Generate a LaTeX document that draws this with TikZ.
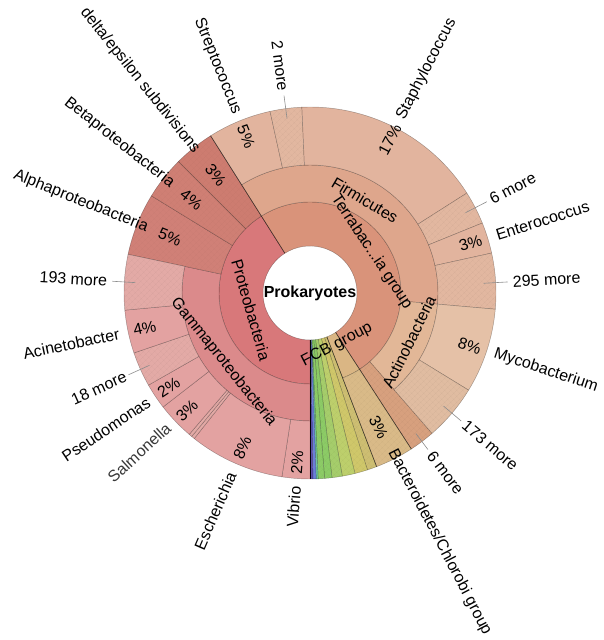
\documentclass[tikz,border=0pt]{standalone}
\usepackage{fontspec}
\setmainfont{Liberation Sans}
\usetikzlibrary{patterns.meta}
\definecolor{proteo}{HTML}{D8787A}
\definecolor{gamma}{HTML}{DB8A8B}
\definecolor{gleaf}{HTML}{E3A2A1}
\definecolor{gmore}{HTML}{E3AAA6}
\definecolor{alpha}{HTML}{D08077}
\definecolor{beta}{HTML}{CF7F74}
\definecolor{delta}{HTML}{CD7C70}
\definecolor{terra}{HTML}{D9937A}
\definecolor{firm}{HTML}{DEA68C}
\definecolor{fleaf}{HTML}{E2B49E}
\definecolor{fmore}{HTML}{E2B7A0}
\definecolor{actino}{HTML}{E2B797}
\definecolor{myco}{HTML}{E5C1A7}
\definecolor{amore}{HTML}{E0BCA1}
\definecolor{tmore}{HTML}{D7A07E}
\definecolor{fcb}{HTML}{DAB684}
\definecolor{bact}{HTML}{D9BA88}
\definecolor{sa}{HTML}{CDBE72}
\definecolor{sb}{HTML}{CFC76A}
\definecolor{sc}{HTML}{BDCF6C}
\definecolor{sd}{HTML}{A5CD6B}
\definecolor{se}{HTML}{8CCB66}
\definecolor{sf}{HTML}{6EC7A0}
\definecolor{sg}{HTML}{6A7FD8}
\definecolor{sh}{HTML}{5B4FAA}
\newcommand{\kslice}[6][]{\filldraw[slice,fill=#6,#1] (#2:#4pt) arc[start angle=#2,end angle=#3,radius=#4pt] -- (#3:#5pt) arc[start angle=#3,end angle=#2,radius=#5pt] -- cycle;}
\tikzset{
  slice/.style={draw=black,draw opacity=0.32,line width=0.45pt},
  hatch/.style={postaction={pattern={Hatch[angle=45,distance=4pt,line width=0.25pt]},pattern color=#1}},
  topline/.style={draw=black,draw opacity=0.55,line width=0.6pt},
  lbl/.style={font=\fontsize{16}{18}\selectfont,inner sep=0pt},
  rname/.style={lbl,anchor=west},
  lname/.style={lbl,anchor=east},
  leader/.style={draw=black!45,line width=0.6pt}
}
\begin{document}
\begin{tikzpicture}
\useasboundingbox (0,0) rectangle (603pt,640pt);
\begin{scope}[shift={(310pt,347pt)}]
% ring 1
\kslice{270}{122.3}{47}{91}{proteo}
\kslice{122.3}{-57}{47}{91}{terra}
\kslice{-57}{-69}{47}{91}{fcb}
% stripes (other phyla)
\kslice[hatch=sa!92!black]{-69}{-72}{47}{186}{sa}
\kslice[hatch=sb!92!black]{-72}{-76}{47}{186}{sb}
\kslice[hatch=sc!92!black]{-76}{-80}{47}{186}{sc}
\kslice[hatch=sd!92!black]{-80}{-83.2}{47}{186}{sd}
\kslice[hatch=se!92!black]{-83.2}{-85.5}{47}{186}{se}
\kslice[hatch=se!92!black]{-85.5}{-87.5}{47}{186}{se}
\kslice{-87.5}{-88.1}{47}{186}{sf}
\kslice{-88.1}{-89.1}{47}{186}{sg}
\kslice{-89.1}{-89.8}{47}{186}{sh}
% ring 2
\kslice{270}{168}{91}{128}{gamma}
\kslice[hatch=alpha!95!black]{168}{148.5}{91}{186}{alpha}
\kslice[hatch=beta!95!black]{148.5}{135}{91}{186}{beta}
\kslice[hatch=delta!95!black]{135}{122.3}{91}{186}{delta}
\kslice{122.3}{-5}{91}{128}{firm}
\kslice{-5}{-49}{91}{128}{actino}
\kslice[hatch=tmore!92!black]{-49}{-57}{91}{186}{tmore}
\kslice[hatch=bact!93!black]{-57}{-69}{91}{186}{bact}
% ring 3: Gammaproteobacteria
\kslice{270}{261.3}{128}{186}{gleaf}
\kslice{261.3}{231.5}{128}{186}{gleaf}
\kslice[hatch=gmore!92!black]{231.5}{230.5}{128}{186}{gmore}
\kslice[hatch=gmore!92!black]{230.5}{229.5}{128}{186}{gmore}
\kslice{229.5}{217.8}{128}{186}{gleaf}
\kslice{217.8}{209.7}{128}{186}{gleaf}
\kslice[hatch=gmore!92!black]{209.7}{198.8}{128}{186}{gmore}
\kslice{198.8}{185.3}{128}{186}{gleaf}
\kslice[hatch=gmore!92!black]{185.3}{168}{128}{186}{gmore}
% ring 3: Firmicutes
\kslice{122.3}{102.4}{128}{186}{fleaf}
\kslice[hatch=fmore!92!black]{102.4}{92.5}{128}{186}{fmore}
\kslice{92.5}{32.5}{128}{186}{fleaf}
\kslice[hatch=fmore!92!black]{32.5}{22.1}{128}{186}{fmore}
\kslice{22.1}{12.4}{128}{186}{fleaf}
\kslice[hatch=fmore!92!black]{12.4}{-5}{128}{186}{fmore}
% ring 3: Actinobacteria
\kslice{-5}{-31.5}{128}{186}{myco}
\kslice[hatch=amore!92!black]{-31.5}{-49}{128}{186}{amore}
% top-level boundaries
\draw[topline] (122.3:47pt) -- (122.3:186pt);
\draw[topline] (-57:47pt) -- (-57:186pt);
\draw[topline] (-69:47pt) -- (-69:186pt);
\draw[black,line width=0.9pt] (-90:47pt) -- (-90:186pt);
% centre
\node[lbl,font=\bfseries\fontsize{16}{18}\selectfont] (root) at (0,0) {Prokaryotes};
% ring labels
\node[lbl,rotate=-73.9] (proteoL) at (196.1:61.4pt) {Proteobacteria};
\node[lbl,rotate=-56.3] (terraL) at (33.7:74pt) {Terrabac...ia group};
\node[lbl,rotate=27.4] (fcbL) at (-62.6:58.6pt) {FCB group};
\node[lbl,rotate=-30.6] (firmL) at (59.4:108pt) {Firmicutes};
\node[lbl,rotate=63.7] (actL) at (-26.3:110.5pt) {Actinobacteria};
\node[lbl,rotate=-51.4] (gammaL) at (218.6:110.6pt) {Gammaproteobacteria};
% percentages
\node[lbl,rotate=62.5] (pStaph) at (62.5:173pt) {17\%};
\node[lbl,rotate=17.25] (pEnt) at (17.25:168pt) {3\%};
\node[lbl,rotate=-18.25] (pMyco) at (-18.25:168pt) {8\%};
\node[lbl,rotate=-63] (pBact) at (-63:151pt) {3\%};
\node[lbl,rotate=-67.8] (pStrep) at (112.2:169pt) {5\%};
\node[lbl,rotate=-51.3] (pDelta) at (128.7:151pt) {3\%};
\node[lbl,rotate=-38.25] (pBeta) at (141.75:151pt) {4\%};
\node[lbl,rotate=-21.8] (pAlpha) at (158.2:151pt) {5\%};
\node[lbl,rotate=12] (pAcin) at (192:169pt) {4\%};
\node[lbl,rotate=33.75] (pPseu) at (213.75:170pt) {2\%};
\node[lbl,rotate=43.65] (pSalm) at (223.65:170pt) {3\%};
\node[lbl,rotate=66.4] (pEsch) at (246.4:169pt) {8\%};
\node[lbl,rotate=85.65] (pVib) at (265.65:170pt) {2\%};
% names, right side
\node[rname,rotate=62.5] (nStaph) at (62.5:196pt) {Staphylococcus};
\node[rname,rotate=17.25] (nEnt) at (17.25:195pt) {Enterococcus};
\node[rname,rotate=-18.25] (nMyco) at (-18.25:194pt) {Mycobacterium};
\node[rname,rotate=-62.5] (nBact) at (-62.5:177pt) {Bacteroidetes/Chlorobi group};
% names, left side
\node[lname,rotate=-67.8] (nStrep) at (112.2:194pt) {Streptococcus};
\node[lname,rotate=-51.3] (nDelta) at (128.7:181pt) {delta/epsilon subdivisions};
\node[lname,rotate=-38.25] (nBeta) at (141.75:175pt) {Betaproteobacteria};
\node[lname,rotate=-21.8] (nAlpha) at (158.2:175pt) {Alphaproteobacteria};
\node[lname,rotate=12] (nAcin) at (192:195pt) {Acinetobacter};
\node[lname,rotate=33.75] (nPseu) at (213.75:194pt) {Pseudomonas};
\node[lname,rotate=42.5,text=black!78] (nSalm) at (223.2:194pt) {Salmonella};
\node[lname,rotate=66.5] (nEsch) at (246.5:196pt) {Escherichia};
\node[lname,rotate=85.65] (nVib) at (265.65:194pt) {Vibrio};
% "more" labels with leaders
\coordinate (a2m) at (97.5:176pt); \coordinate (b2m) at (97.5:199pt);
\node[lname,rotate=-82.5] (t2m) at (97.5:204pt) {2 more};
\draw[leader] (a2m) -- (b2m);
\coordinate (a6m) at (27.3:175pt); \coordinate (b6m) at (27.3:199pt);
\node[rname,rotate=27.3] (t6m) at (27.3:203pt) {6 more};
\draw[leader] (a6m) -- (b6m);
\coordinate (a295) at (3.2:174pt); \coordinate (b295) at (3.2:198pt);
\node[rname,rotate=3.2] (t295) at (3.2:203pt) {295 more};
\draw[leader] (a295) -- (b295);
\coordinate (a173) at (-40.25:175pt); \coordinate (b173) at (-40.25:198pt);
\node[rname,rotate=-40.25] (t173) at (-40.25:202pt) {173 more};
\draw[leader] (a173) -- (b173);
\coordinate (a6t) at (-53:176pt); \coordinate (b6t) at (-53:196pt);
\node[rname,rotate=-53] (t6t) at (-53:200pt) {6 more};
\draw[leader] (a6t) -- (b6t);
\coordinate (a193) at (176.6:175pt); \coordinate (b193) at (176.6:198pt);
\node[lname,rotate=-3.4] (t193) at (176.6:203pt) {193 more};
\draw[leader] (a193) -- (b193);
\coordinate (a18) at (204.25:176pt); \coordinate (b18) at (204.25:199pt);
\node[lname,rotate=24.25] (t18) at (204.25:202pt) {18 more};
\draw[leader] (a18) -- (b18);
\end{scope}
\end{tikzpicture}
\end{document}
